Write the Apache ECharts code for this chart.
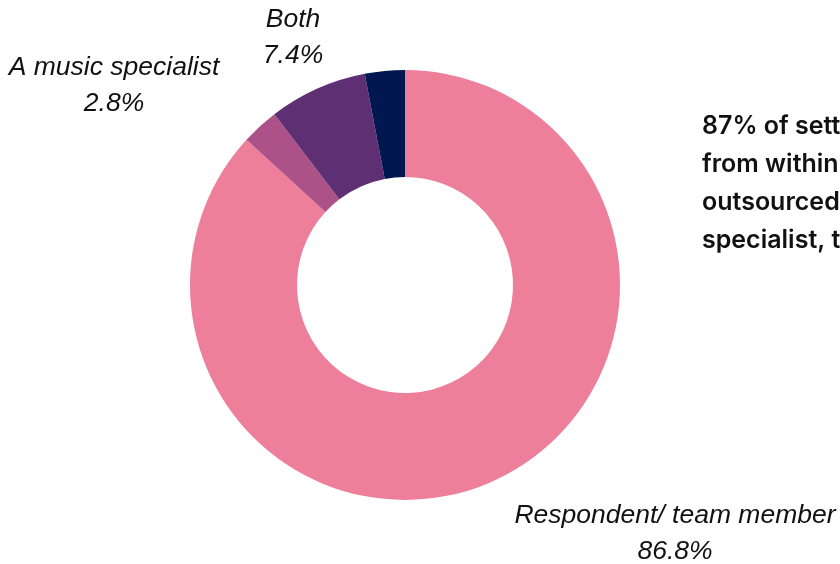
<!DOCTYPE html>
<html>
<head>
<meta charset="utf-8">
<script src="https://cdn.jsdelivr.net/npm/echarts@6/dist/echarts.min.js"></script>
<style>
  html, body { margin: 0; padding: 0; background: #ffffff; }
  #chart { width: 840px; height: 564px; }
</style>
</head>
<body>
<div id="chart"></div>
<script>
// Who provides music in the setting (share of respondents, %)
const categories = ['Respondent/ team member', 'A music specialist', 'Both', 'Other'];
const shares = [86.8, 2.8, 7.4, 3.0];
const sliceColors = ['#EE7F9B', '#AD5289', '#5E2F73', '#00174F'];
const labelledSlices = [true, true, true, false];

// Side note text, one entry per line
const noteLines = [
  '87% of settings source',
  'from within their team,',
  'outsourced to a music',
  'specialist, the rest use both'
];

// Label anchor points (px) for each slice
const labelAnchors = [
  [675, 534],
  [114, 86],
  [293, 38],
  [0, 0]
];

const chart = echarts.init(document.getElementById('chart'), null, { renderer: 'canvas' });

const data = categories.map((name, i) => ({
  name: name,
  value: shares[i],
  itemStyle: { color: sliceColors[i] },
  label: { show: labelledSlices[i] }
}));

chart.setOption({
  animation: false,
  backgroundColor: '#ffffff',
  series: [{
    type: 'pie',
    center: [405, 285],
    radius: [108, 215],
    startAngle: 90,
    clockwise: true,
    avoidLabelOverlap: false,
    data: data,
    itemStyle: { borderWidth: 0 },
    emphasis: { disabled: true },
    label: {
      position: 'outside',
      formatter: p => p.name + '\n' + p.value.toFixed(1) + '%',
      fontFamily: '"Liberation Sans", Arial, sans-serif',
      fontStyle: 'italic',
      fontSize: 26.5,
      lineHeight: 36,
      color: '#111111',
      align: 'center'
    },
    labelLine: { show: false },
    labelLayout: function (params) {
      const a = labelAnchors[params.dataIndex];
      return { x: a[0], y: a[1], align: 'center', verticalAlign: 'middle' };
    }
  }],
  graphic: noteLines.map((line, i) => ({
    type: 'text',
    left: 702,
    top: 114 + i * 38,
    style: {
      text: line,
      font: '600 25px Inter, "Noto Sans", sans-serif',
      fill: '#111111'
    }
  }))
});
</script>
</body>
</html>
